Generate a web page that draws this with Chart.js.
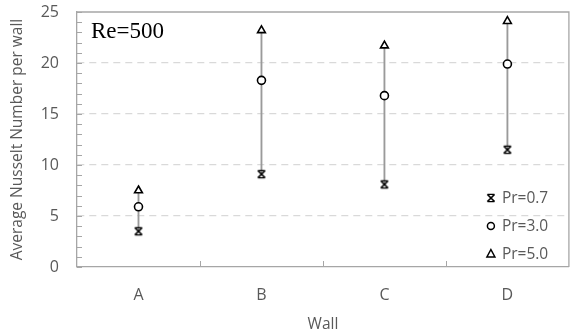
<!DOCTYPE html>
<html>
<head>
<meta charset="utf-8">
<script src="https://cdn.jsdelivr.net/npm/chart.js@4"></script>
<style>
  html, body { margin: 0; padding: 0; background: #fff; }
  #wrap { width: 575px; height: 335px; }
</style>
</head>
<body>
<div id="wrap"><canvas id="myChart" width="575" height="335"></canvas></div>
<script>
// datos
const walls = ["A", "B", "C", "D"];
const pr07 = [3.5, 9.1, 8.1, 11.5];
const pr30 = [5.9, 18.3, 16.8, 19.9];
const pr50 = [7.5, 23.2, 21.7, 24.1];
const serieNames = ["Pr=0.7", "Pr=3.0", "Pr=5.0"];
const yTicksMajor = [0, 5, 10, 15, 20, 25];

const textGrey = "#595959";
const axisGrey = "#a6a6a6";
const fuente = "'Open Sans', 'Liberation Sans', sans-serif";

// rango de cada muro (linea vertical)
const rangos = walls.map((w, i) => {
  const vals = [pr07[i], pr30[i], pr50[i]];
  return [Math.min(...vals), Math.max(...vals)];
});

// marcador estrella tipo excel
function makeStar() {
  const c = document.createElement("canvas");
  c.width = 12; c.height = 12;
  const g = c.getContext("2d");
  g.strokeStyle = "#000";
  g.lineWidth = 1.7;
  g.beginPath();
  g.moveTo(2.5, 2.5); g.lineTo(9.5, 9.5);
  g.moveTo(9.5, 2.5); g.lineTo(2.5, 9.5);
  g.stroke();
  g.lineWidth = 1.3;
  g.beginPath();
  g.moveTo(2.5, 2.3); g.lineTo(9.5, 2.3);
  g.moveTo(2.5, 9.7); g.lineTo(9.5, 9.7);
  g.stroke();
  return c;
}
const starImg = makeStar();

const extras = {
  id: "extras",
  afterDraw(chart) {
    const ctx = chart.ctx;
    const area = chart.chartArea;
    const ys = chart.scales.y;
    const xs = chart.scales.x;
    ctx.save();
    // marco superior y derecho
    ctx.strokeStyle = axisGrey;
    ctx.lineWidth = 1.3;
    ctx.beginPath();
    ctx.moveTo(area.left, area.top);
    ctx.lineTo(area.right, area.top);
    ctx.lineTo(area.right, area.bottom);
    ctx.stroke();
    // ticks menores eje y
    ctx.lineWidth = 1;
    ctx.beginPath();
    for (let v = 0; v <= 25; v++) {
      const py = Math.round(ys.getPixelForValue(v)) + 0.5;
      ctx.moveTo(area.left, py);
      ctx.lineTo(area.left + 5, py);
    }
    // ticks entre categorias
    for (let i = 0; i < walls.length - 1; i++) {
      const px = Math.round((xs.getPixelForValue(i) + xs.getPixelForValue(i + 1)) / 2) + 0.5;
      ctx.moveTo(px, area.bottom);
      ctx.lineTo(px, area.bottom - 6);
    }
    ctx.stroke();

    // texto Re=500
    ctx.fillStyle = "#000";
    ctx.font = "23px 'Liberation Serif', 'Times New Roman', serif";
    ctx.textBaseline = "middle";
    ctx.textAlign = "left";
    ctx.fillText("Re=500", area.left + 14, area.top + 20);

    // leyenda dentro del area
    const filas = [area.bottom - 69, area.bottom - 41, area.bottom - 13];
    ctx.font = "15.5px " + fuente;
    ctx.fillStyle = textGrey;
    chart.data.datasets.forEach((ds) => {
      if (ds.type === "bar") return;
      const idx = serieNames.indexOf(ds.label);
      const py = filas[idx];
      const px = area.right - 78;
      ctx.strokeStyle = "#000";
      ctx.lineWidth = 1.5;
      if (idx === 0) {
        ctx.drawImage(starImg, px - 6, py - 6);
      } else if (idx === 1) {
        ctx.beginPath();
        ctx.arc(px, py, 3.5, 0, Math.PI * 2);
        ctx.stroke();
      } else {
        ctx.beginPath();
        ctx.moveTo(px, py - 4.5);
        ctx.lineTo(px + 4, py + 3);
        ctx.lineTo(px - 4, py + 3);
        ctx.closePath();
        ctx.stroke();
      }
      ctx.fillText(ds.label, area.right - 67, py + 1);
    });
    ctx.restore();
  }
};

const ctxChart = document.getElementById("myChart");
new Chart(ctxChart, {
  data: {
    labels: walls,
    datasets: [
      {
        type: "line",
        label: serieNames[0],
        data: pr07,
        showLine: false,
        pointStyle: starImg,
        order: 1
      },
      {
        type: "line",
        label: serieNames[1],
        data: pr30,
        showLine: false,
        pointStyle: "circle",
        pointRadius: 4,
        pointBorderWidth: 1.6,
        pointBorderColor: "#000",
        pointBackgroundColor: "#fff",
        order: 1
      },
      {
        type: "line",
        label: serieNames[2],
        data: pr50,
        showLine: false,
        pointStyle: "triangle",
        pointRadius: 4.5,
        pointBorderWidth: 1.6,
        pointBorderColor: "#000",
        pointBackgroundColor: "#fff",
        order: 1
      },
      {
        type: "bar",
        label: "rango",
        data: rangos,
        backgroundColor: "#9a9a9a",
        barThickness: 1.2,
        order: 2
      }
    ]
  },
  options: {
    responsive: false,
    animation: false,
    layout: { padding: { left: 0, right: 2, top: 12, bottom: 0 } },
    plugins: {
      legend: { display: false },
      tooltip: { enabled: false }
    },
    scales: {
      x: {
        offset: true,
        grid: { display: false, drawTicks: false },
        border: { color: axisGrey, width: 1.3 },
        ticks: { color: textGrey, font: { family: fuente, size: 16 }, padding: 19 },
        title: {
          display: true,
          text: "Wall",
          color: textGrey,
          font: { family: fuente, size: 15.5 },
          padding: { top: 0, bottom: 1 }
        },
        afterFit(scale) { scale.height = 68; }
      },
      y: {
        min: 0,
        max: 25,
        ticks: {
          stepSize: 1,
          color: textGrey,
          font: { family: fuente, size: 16 },
          padding: 18,
          autoSkip: false,
          callback: (v) => (yTicksMajor.includes(v) ? v : "")
        },
        grid: {
          drawTicks: false,
          color: (c) => {
            const v = c.tick ? c.tick.value : 0;
            return (v % 5 === 0 && v > 0 && v < 25) ? "#d9d9d9" : "rgba(0,0,0,0)";
          },
          lineWidth: 1.3
        },
        border: { color: axisGrey, width: 1.3, dash: [7, 5] },
        title: {
          display: true,
          text: "Average Nusselt Number per wall",
          color: textGrey,
          font: { family: fuente, size: 15.5 },
          padding: { top: 8, bottom: 0 }
        },
        afterFit(scale) {
          scale.width = 77;
          scale.paddingTop = 0;
          scale.paddingBottom = 0;
        }
      }
    }
  },
  plugins: [extras]
});
</script>
</body>
</html>
